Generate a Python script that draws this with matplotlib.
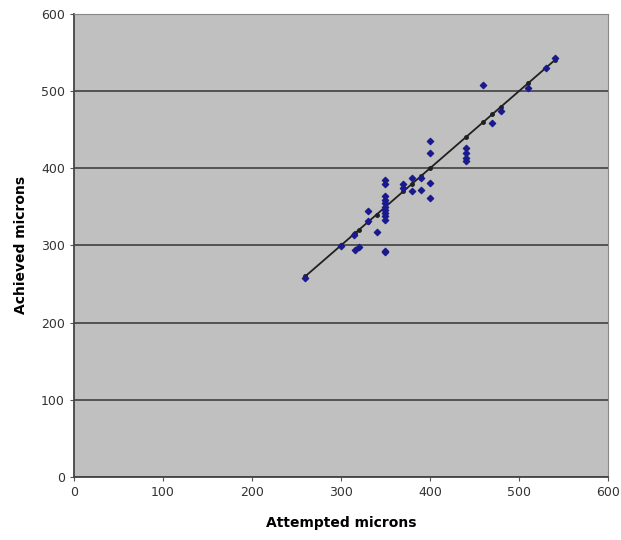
import matplotlib
matplotlib.use('Agg')
import matplotlib.pyplot as plt
import numpy as np

# attempted vs achieved (microns)
attempted = [260, 300, 315, 316, 320, 330, 330, 340,
             350, 350, 350, 350, 350, 350, 350, 350, 350, 350, 350, 350,
             370, 370, 380, 390, 380, 390, 400, 400, 400, 400,
             440, 440, 440, 440, 460, 470, 480, 510, 530, 540]
achieved = [258, 299, 314, 294, 298, 344, 332, 318,
            385, 380, 364, 359, 355, 350, 346, 342, 338, 333, 291, 293,
            379, 374, 387, 387, 370, 372, 381, 362, 435, 420,
            426, 420, 414, 409, 508, 459, 474, 504, 530, 543]

# ideal line: achieved = attempted
ideal_x = sorted(set(attempted))
ideal_y = ideal_x

fig = plt.figure(figsize=(6.21, 5.4), dpi=100)
ax = fig.add_axes([0.119, 0.117, 0.86, 0.857])
ax.set_facecolor('#c0c0c0')

ax.plot(ideal_x, ideal_y, color='#202020', linewidth=1.3, marker='o', markersize=2.5, zorder=3)
ax.scatter(attempted, achieved, color='#1a1a8c', marker='D', s=10, zorder=4)

ax.set_xlim(0, 600)
ax.set_ylim(0, 600)
ax.set_xticks(np.arange(0, 601, 100))
ax.set_yticks(np.arange(0, 601, 100))
ax.yaxis.grid(True, color='#4a4a4a', linewidth=1.3)
ax.set_axisbelow(True)

for s in ['top', 'right']:
    ax.spines[s].set_color('#888888')
for s in ['left', 'bottom']:
    ax.spines[s].set_color('#444444')
    ax.spines[s].set_linewidth(1.3)

ax.tick_params(direction='out', length=3, color='#555555', labelsize=9, labelcolor='#333333')

ax.set_xlabel('Attempted microns', fontsize=10, fontweight='bold', labelpad=12)
ax.set_ylabel('Achieved microns', fontsize=10, fontweight='bold', labelpad=9)

plt.savefig('out.png', dpi=100)
